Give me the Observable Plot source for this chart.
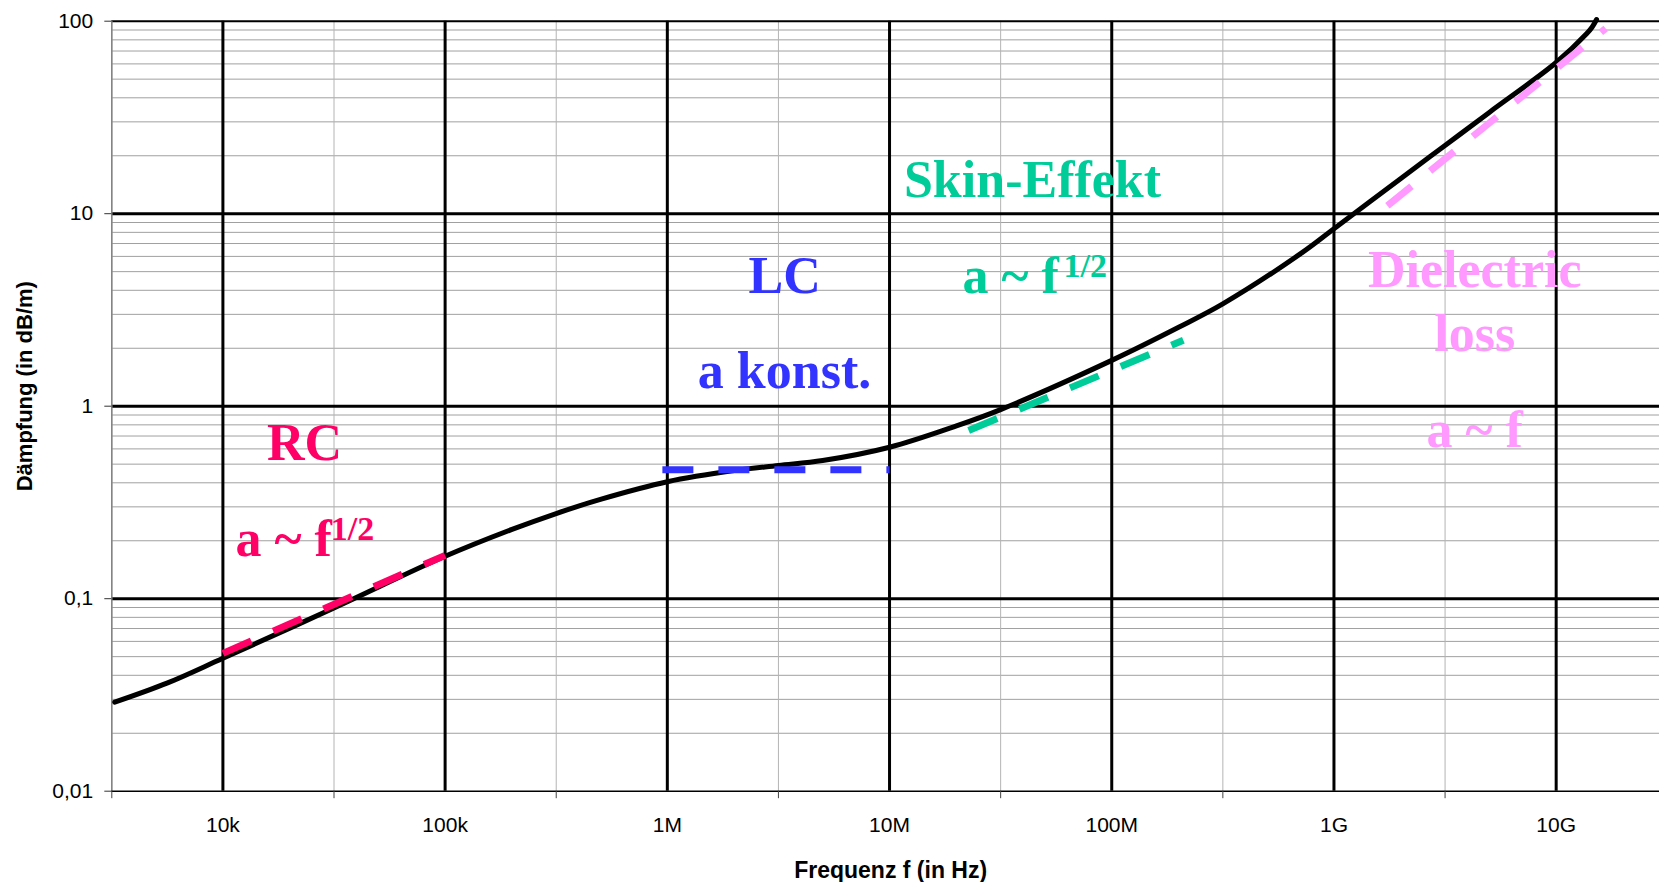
<!DOCTYPE html>
<html><head><meta charset="utf-8">
<script src="https://cdn.jsdelivr.net/npm/d3@7"></script>
<script src="https://cdn.jsdelivr.net/npm/@observablehq/plot@0.6"></script>
<style>body{margin:0;background:#fff}</style>
</head><body><div id="chart"></div>
<script>
// Attenuation curve
const freqHz = [3.26e3, 5.6e3, 1e4, 3.16e4, 1e5, 2e5, 3.16e5, 5e5, 1e6, 2e6, 3.16e6, 5e6, 1e7, 2e7, 3.16e7, 1e8, 2e8, 3.16e8, 7.08e8, 1e9, 2e9, 3.16e9, 5e9, 1e10, 1.37e10, 1.45e10, 1.52e10];
const dampingDbPerM = [0.029, 0.0364, 0.049, 0.0895, 0.166, 0.229, 0.277, 0.328, 0.405, 0.463, 0.492, 0.522, 0.612, 0.79, 0.96, 1.73, 2.57, 3.4, 6.2, 8.35, 15.25, 22.6, 33.6, 61.0, 86, 93, 102];

// Asymptote segments
const rcFreq = [1e4, 1e5], rcValue = [0.052, 0.168];
const lcFreq = [0.95e6, 1e7], lcValue = [0.467, 0.467];
const skinFreq = [2.27e7, 2.1e8], skinValue = [0.748, 2.2];
const dielFreq = [1.74e9, 1.67e10], dielValue = [11.0, 91.6];

// Colours
const rcColor = "#ff0066", lcColor = "#3333ff", skinColor = "#00cc99", dielColor = "#ff99ff";

// Annotations (centred)
const noteText  = ["RC", "LC", "a konst.", "Skin-Effekt", "Dielectric", "loss", "a ~ f"];
const noteFreq  = [2.33e4, 3.37e6, 3.37e6, 4.4e7, 4.3e9, 4.3e9, 4.3e9];
const noteValue = [0.528, 3.86, 1.236, 12.18, 4.15, 1.946, 0.612];
const noteColor = [rcColor, lcColor, lcColor, skinColor, dielColor, dielColor, dielColor];
// Annotations (left-aligned) with superscripts
const lawText  = ["a ~ f", "a ~ f"];
const lawFreq  = [1.14e4, 2.13e7];
const lawValue = [0.1676, 3.86];
const lawColor = [rcColor, skinColor];
const supText  = ["1/2", "1/2"];
const supFreq  = [3.06e4, 6.07e7];
const supValue = [0.203, 4.68];

// Ticks
const yMajor = [0.01, 0.1, 1, 10, 100];
const yTickLabels = ["0,01", "0,1", "1", "10", "100"];
const xMajor = [1e4, 1e5, 1e6, 1e7, 1e8, 1e9, 1e10];
const xTickLabels = ["10k", "100k", "1M", "10M", "100M", "1G", "10G"];
const xMinor = [3.5, 4.5, 5.5, 6.5, 7.5, 8.5, 9.5].map(e => 10 ** e);
const yMinor = [];
for (const d of [0.01, 0.1, 1, 10]) for (let m = 2; m <= 9; m++) yMinor.push(+(d * m).toPrecision(3));

const xDomain = [10 ** 3.5, 10 ** 10.465];
const idx = a => a.map((_, i) => i);
const serif = "'Liberation Serif', 'Times New Roman', serif";

const chart = Plot.plot({
  width: 1659, height: 882,
  marginLeft: 111.3, marginRight: 0, marginTop: 20.7, marginBottom: 91.3,
  x: {type: "log", domain: xDomain, axis: null},
  y: {type: "log", domain: [0.01, 100], axis: null},
  color: {type: "identity"},
  style: {fontFamily: "'Liberation Sans', Arial, sans-serif", fontSize: "21px", background: "#fff", overflow: "visible"},
  marks: [
    Plot.ruleY(yMinor, {stroke: "#a0a0a0", strokeWidth: 1}),
    Plot.ruleX(xMinor, {stroke: "#b4b4b4", strokeWidth: 1}),
    Plot.ruleY(yMajor.slice(1, 4), {stroke: "#000", strokeWidth: 3}),
    Plot.ruleY([100], {stroke: "#000", strokeWidth: 2}),
    Plot.ruleX(xMajor, {stroke: "#000", strokeWidth: 3}),
    Plot.ruleX([xDomain[0]], {stroke: "#808080", strokeWidth: 1.5}),
    Plot.ruleY([0.01], {stroke: "#000", strokeWidth: 1.5}),
    Plot.axisY(yMajor, {tickSize: 7, tickPadding: 11.6, tickFormat: d => yTickLabels[yMajor.indexOf(d)], fontSize: 21, stroke: "#333", label: null}),
    Plot.axisX(xMajor, {tickSize: 0, tickPadding: 26, tickFormat: d => xTickLabels[xMajor.indexOf(d)], fontSize: 21, label: null}),
    Plot.axisX(xMinor, {tickSize: 7.5, tickFormat: () => "", stroke: "#444", label: null}),
    Plot.text(["Frequenz f (in Hz)"], {frameAnchor: "bottom", textAnchor: "middle", dx: 5, dy: 79, fontWeight: "bold", fontSize: 23, lineAnchor: "middle"}),
    Plot.text(["Dämpfung (in dB/m)"], {frameAnchor: "left", textAnchor: "middle", dx: -87, dy: -20, rotate: -90, fontWeight: "bold", fontSize: 22, lineAnchor: "middle"}),
    Plot.line(idx(freqHz), {x: i => freqHz[i], y: i => dampingDbPerM[i], stroke: "#000", strokeWidth: 5, curve: "catmull-rom"}),
    Plot.line(idx(rcFreq), {x: i => rcFreq[i], y: i => rcValue[i], stroke: rcColor, strokeWidth: 7, strokeDasharray: "31,24", strokeLinecap: "butt"}),
    Plot.line(idx(lcFreq), {x: i => lcFreq[i], y: i => lcValue[i], stroke: lcColor, strokeWidth: 7, strokeDasharray: "31,25", strokeLinecap: "butt"}),
    Plot.line(idx(skinFreq), {x: i => skinFreq[i], y: i => skinValue[i], stroke: skinColor, strokeWidth: 7, strokeDasharray: "31,24", strokeLinecap: "butt"}),
    Plot.line(idx(dielFreq), {x: i => dielFreq[i], y: i => dielValue[i], stroke: dielColor, strokeWidth: 7, strokeDasharray: "31,24", strokeLinecap: "butt"}),
    Plot.text(idx(noteText), {x: i => noteFreq[i], y: i => noteValue[i], text: i => noteText[i], fill: i => noteColor[i], textAnchor: "middle", lineAnchor: "bottom", fontSize: 52, fontWeight: "bold", fontFamily: serif}),
    Plot.text(idx(lawText), {x: i => lawFreq[i], y: i => lawValue[i], text: i => lawText[i], fill: i => lawColor[i], textAnchor: "start", lineAnchor: "bottom", fontSize: 52, fontWeight: "bold", fontFamily: serif}),
    Plot.text(idx(supText), {x: i => supFreq[i], y: i => supValue[i], text: i => supText[i], fill: i => lawColor[i], textAnchor: "start", lineAnchor: "bottom", fontSize: 34, fontWeight: "bold", fontFamily: serif})
  ]
});
document.getElementById("chart").appendChild(chart);
</script>
</body></html>
